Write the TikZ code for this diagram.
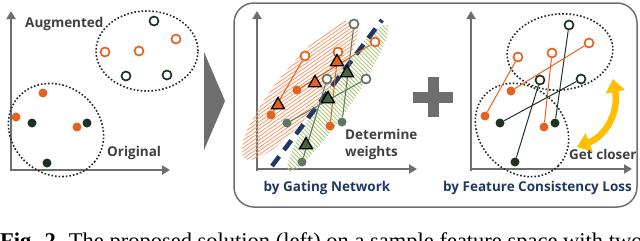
\documentclass[tikz,border=0pt]{standalone}
\usepackage{fontspec}
\setmainfont{Liberation Serif}
\newfontfamily\labelfont{Open Sans}
\usetikzlibrary{arrows.meta, shapes.geometric, patterns.meta}

\definecolor{axisgray}{RGB}{110,110,110}
\definecolor{textgray}{RGB}{64,64,64}
\definecolor{orng}{RGB}{226,98,32}
\definecolor{darkpt}{RGB}{30,50,35}
\definecolor{sage}{RGB}{96,118,96}
\definecolor{trigreen}{RGB}{72,102,56}
\definecolor{hatchorange}{RGB}{242,160,115}
\definecolor{hatchgreen}{RGB}{170,200,120}
\definecolor{navy}{RGB}{31,56,100}
\definecolor{gold}{RGB}{255,190,0}

\begin{document}
\begin{tikzpicture}[
    x=1pt, y=-1pt, % work in picture pixels, y downwards
    >={Triangle[width=9pt,length=8pt]}, % Set default arrow tip style
    axis/.style={->, line width=2.6pt, axisgray}, % Style for axes
    cloud/.style={draw=black!85, dotted, line width=1.6pt, ellipse, inner sep=0pt}, % dotted clusters
    openpt/.style={circle, draw=#1, line width=1.7pt, fill=white, minimum size=9pt, inner sep=0pt},
    fillpt/.style={circle, fill=#1, minimum size=9pt, inner sep=0pt},
    tri/.style={regular polygon, regular polygon sides=3, draw=black, line width=1.3pt, fill=#1, minimum size=15pt, inner sep=0pt},
    link/.style={#1, line width=1pt}, % Style for pair lines
    lbl/.style={font=\labelfont\bfseries\fontsize{13.5}{17}\selectfont, text=textgray, inner sep=0pt},
    blbl/.style={font=\labelfont\bfseries\fontsize{13.5}{17}\selectfont, text=navy, inner sep=0pt},
    panel/.style={draw=axisgray, line width=1.5pt, rounded corners=20pt}
]
    \useasboundingbox (0,0) rectangle (640,241);

    % Left: sample feature space
    \draw[axis] (11,171) -- (11,11);
    \draw[axis] (10,170) -- (170,170);
    \node[cloud, minimum width=102pt, minimum height=80pt] (augcloud) at (147,51) {};
    \node[cloud, minimum width=100pt, minimum height=88pt, rotate=-40] (origcloud) at (56,130) {};
    \node[lbl, anchor=west] (augmented) at (25,24) {Augmented};
    \node[lbl, anchor=west] (original) at (107,153) {Original};

    % Augmented (open) and original (filled) points
    \foreach \p/\c/\x/\y in {a1/darkpt/154/21, a2/darkpt/126/76, a3/darkpt/167/75,
                            a4/orng/105/52, a5/orng/139/51, a6/orng/176/39} {
        \node[openpt=\c] (\p) at (\x,\y) {};
    }
    \foreach \p/\c/\x/\y in {b1/orng/43/93, b2/orng/16/117, b3/orng/77/127,
                            b4/darkpt/32/123, b5/darkpt/87/123, b6/darkpt/47/163} {
        \node[fillpt=\c] (\p) at (\x,\y) {};
    }

    % Big arrow to the right
    \fill[axisgray] (204,52) -- (225,101) -- (204,150) -- cycle;

    % Right frame
    \draw[panel] (234,3) rectangle (637,207);

    % Middle: gating network
    \draw[axis] (257,171) -- (257,11);
    \draw[axis] (256,169) -- (417,169);
    \node[ellipse, minimum width=176pt, minimum height=46pt, rotate=51,
          pattern={Lines[angle=35, distance=3pt, line width=0.9pt]}, pattern color=hatchorange] (orangezone) at (300,90) {};
    \node[ellipse, minimum width=176pt, minimum height=28pt, rotate=56,
          pattern={Lines[angle=135, distance=3pt, line width=0.9pt]}, pattern color=hatchgreen] (greenzone) at (338,98) {};
    \coordinate (gatelow) at (272,166);
    \coordinate (gatehigh) at (382,20);
    \draw[navy, line width=4.5pt, dash pattern=on 12pt off 8pt] (gatelow) -- (gatehigh);

    \foreach \p/\c/\x/\y in {o1/orng/305/56, o2/orng/338/52, o3/orng/375/42,
                            g1/sage/354/24, g2/sage/327/79, g3/sage/366/79} {
        \node[openpt=\c] (\p) at (\x,\y) {};
    }
    \foreach \p/\c/\x/\y in {f1/orng/271/115, f2/orng/330/126, f3/orng/297/90,
                            h1/sage/342/122, h2/sage/302/162, h3/sage/287/123} {
        \node[fillpt=\c] (\p) at (\x,\y) {};
    }
    \foreach \s/\t/\c in {o1/f1/orng, o2/f2/orng, o3/f3/orng, g1/h1/sage, g2/h2/sage, g3/h3/sage} {
        \draw[link=\c] (\s) -- (\t);
    }
    \foreach \p/\c/\x/\y in {t1/orng/278/105, t2/orng/337/62, t3/orng/315/83,
                            t4/trigreen/347/73, t5/trigreen/306/145, t6/trigreen/328/99} {
        \node[tri=\c] (\p) at (\x,\y) {};
    }
    \node[lbl, anchor=north west, align=left] (weights) at (345,129) {Determine\\weights};
    \node[blbl] (gating) at (327,188) {by Gating Network};

    % Plus sign
    \fill[axisgray] (413,91.5) rectangle (453,102.5);
    \fill[axisgray] (427.5,77) rectangle (438.5,117);

    % Right: feature consistency
    \draw[axis] (471,171) -- (471,11);
    \draw[axis] (470,169) -- (632,169);
    \node[cloud, minimum width=106pt, minimum height=76pt, rotate=5] (upcloud) at (560,52) {};
    \node[cloud, minimum width=102pt, minimum height=84pt, rotate=-45] (lowcloud) at (522,130) {};

    \foreach \p/\c/\x/\y in {ra/darkpt/569/25, rb/orng/589/43, rc/orng/518/57,
                            rd/orng/552/53, re/darkpt/540/80, rf/darkpt/581/79} {
        \node[openpt=\c] (\p) at (\x,\y) {};
    }
    \foreach \p/\c/\x/\y in {sa/darkpt/555/123, sb/orng/511/91, sc/orng/485/116,
                            sd/orng/544/127, se/darkpt/515/162, sf/darkpt/500/123} {
        \node[fillpt=\c] (\p) at (\x,\y) {};
    }
    \foreach \s/\c in {a/darkpt, b/orng, c/orng, d/orng, e/darkpt, f/darkpt} {
        \draw[link=\c] (r\s) -- (s\s);
    }

    % Curved double arrow
    \coordinate (closelow) at (577,147);
    \coordinate (closehigh) at (613,79);
    \draw[gold, line width=6.5pt, {Triangle[width=19pt,length=13pt]}-{Triangle[width=19pt,length=13pt]}]
        (closelow) .. controls (606,136) and (619,112) .. (closehigh);

    \node[lbl, anchor=west] (closer) at (569,154) {Get closer};
    \node[blbl] (consistency) at (537.5,188) {by Feature Consistency Loss};

    % Caption, cut off at the bottom edge
    \begin{scope}
        \clip (0,0) rectangle (640,241);
        \node[anchor=base west, inner sep=0pt, font=\fontsize{22.5}{24}\selectfont] (caption) at (0,248)
            {\textbf{Fig. 2.} The proposed solution (left) on a sample feature space with two};
    \end{scope}

\end{tikzpicture}
\end{document}
